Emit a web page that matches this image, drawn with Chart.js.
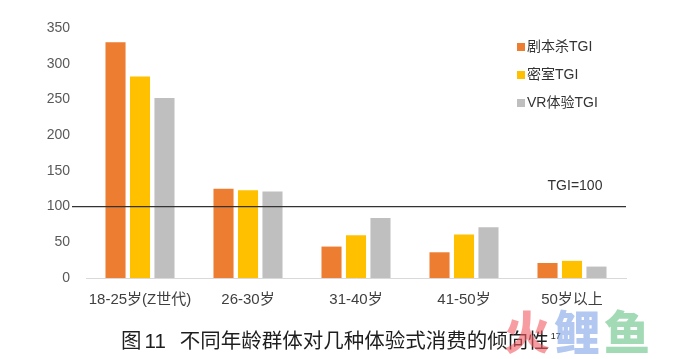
<!DOCTYPE html>
<html>
<head>
<meta charset="UTF-8">
<title>不同年龄群体对几种体验式消费的倾向性</title>
<script src="https://cdn.jsdelivr.net/npm/chart.js"></script>
<style>
  html, body { margin: 0; padding: 0; background: #fff; }
  .wrap { position: relative; width: 674px; height: 359px; overflow: hidden; }
  #chart { position: absolute; left: 0; top: 0; }
  .caption {
    position: absolute; left: 121px; top: 322px; line-height: 28px;
    font-family: 'Noto Sans CJK SC', sans-serif;
    font-size: 20.5px; color: #1e1e1e; white-space: nowrap;
  }
  .caption .num { font-family: 'Liberation Sans', sans-serif; margin-left: 3px; margin-right: 14px; }
  .caption sup { font-size: 9px; vertical-align: 9px; margin-left: 2px; font-family: 'Liberation Sans', sans-serif; }
  .mark {
    position: absolute; left: 504px; top: 296px; font-family: 'Noto Sans CJK SC', sans-serif;
    font-size: 46px; font-weight: 900; letter-spacing: 4px; opacity: 0.6;
  }
</style>
</head>
<body>
<div class="wrap">
  <canvas id="chart" width="674" height="359"></canvas>
  <div class="caption">图<span class="num">11</span>不同年龄群体对几种体验式消费的倾向性<sup>17</sup></div>
  <div class="mark"><span style="color:#f25c63">火</span><span style="color:#7fa3e6">鲤</span><span style="color:#66c286">鱼</span></div>
</div>
<script>
const ageGroups = ['18-25岁(Z世代)', '26-30岁', '31-40岁', '41-50岁', '50岁以上'];
const seriesNames = ['剧本杀TGI', '密室TGI', 'VR体验TGI'];
const scriptKill = [330, 125, 44, 36, 21];
const escapeRoom = [282, 123, 60, 61, 24];
const vrTgi = [252, 121, 84, 71, 16];
const colors = ['#ED7D31', '#FFC000', '#BFBFBF'];
const baseline = 100;
const baseLabel = 'TGI=100';

const font = "'Liberation Sans', 'Noto Sans CJK SC', sans-serif";

// horizontal TGI=100 reference line + legend drawn on the canvas
const extras = {
  id: 'extras',
  afterDatasetsDraw(chart) {
    const ctx = chart.ctx;
    const area = chart.chartArea;
    const y = chart.scales.y.getPixelForValue(baseline);
    ctx.save();
    ctx.strokeStyle = '#333';
    ctx.lineWidth = 1.3;
    ctx.beginPath();
    ctx.moveTo(72, y);
    ctx.lineTo(area.right, y);
    ctx.stroke();
    ctx.fillStyle = '#333';
    ctx.font = '14px ' + font;
    ctx.textAlign = 'center';
    ctx.textBaseline = 'middle';
    ctx.fillText(baseLabel, 575, y - 20);

    ctx.textAlign = 'left';
    chart.data.datasets.forEach((ds, i) => {
      const ly = 47 + i * 28;
      ctx.fillStyle = ds.backgroundColor;
      ctx.fillRect(517, ly - 4, 8, 8);
      ctx.fillStyle = '#333';
      ctx.fillText(ds.label, 527, ly);
    });
    ctx.restore();
  }
};

new Chart('chart', {
  type: 'bar',
  data: {
    labels: ageGroups,
    datasets: [
      { label: seriesNames[0], data: scriptKill, backgroundColor: colors[0] },
      { label: seriesNames[1], data: escapeRoom, backgroundColor: colors[1] },
      { label: seriesNames[2], data: vrTgi, backgroundColor: colors[2] }
    ]
  },
  options: {
    responsive: false,
    animation: false,
    layout: { padding: { top: 28, right: 48, bottom: 51, left: 0 } },
    datasets: { bar: { categoryPercentage: 0.68, barPercentage: 0.82 } },
    plugins: { legend: { display: false }, tooltip: { enabled: false } },
    scales: {
      x: {
        grid: { display: false },
        border: { color: '#D9D9D9', width: 1 },
        ticks: { color: '#404040', font: { family: font, size: 15 }, padding: 5, maxRotation: 0 },
        afterFit(s) { s.height = 30; }
      },
      y: {
        min: 0, max: 350,
        grid: { display: false, drawTicks: false },
        border: { display: false },
        ticks: { stepSize: 50, color: '#595959', font: { family: font, size: 14 }, padding: 16 },
        afterFit(s) { s.width = 86; }
      }
    }
  },
  plugins: [extras]
});
</script>
</body>
</html>
